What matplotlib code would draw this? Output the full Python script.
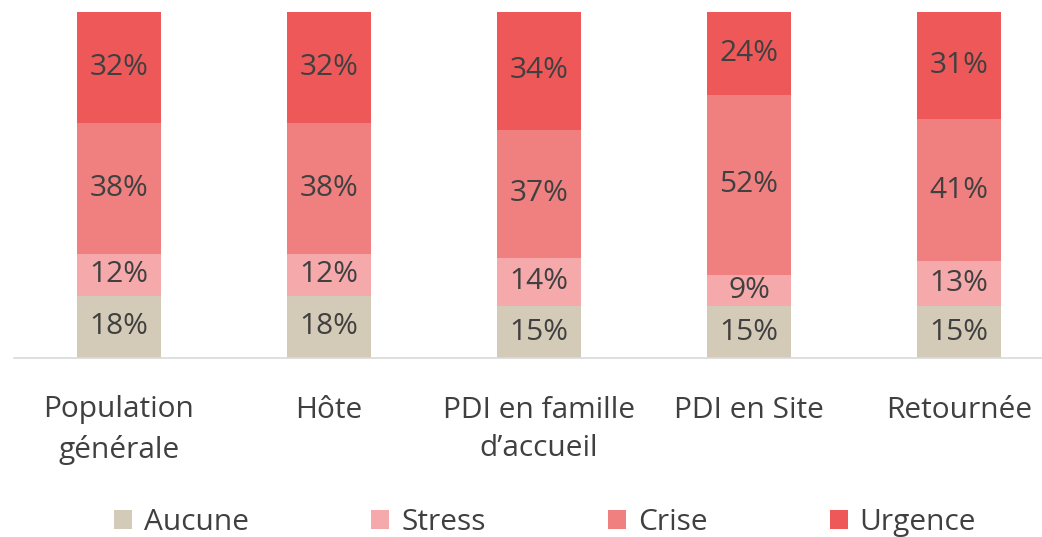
import matplotlib
matplotlib.use("Agg")
import matplotlib.pyplot as plt
import numpy as np

plt.rcParams["font.family"] = ["Open Sans", "DejaVu Sans"]

categories = ["Population\ngénérale", "Hôte", "PDI en famille\nd\u2019accueil", "PDI en Site", "Retournée"]
series_names = ["Aucune", "Stress", "Crise", "Urgence"]
aucune = [18, 18, 15, 15, 15]
stress = [12, 12, 14, 9, 13]
crise = [38, 38, 37, 52, 41]
urgence = [32, 32, 34, 24, 31]
colors = ["#D3CAB7", "#F5A9AB", "#F08080", "#EE5859"]

FS = 21.5

fig = plt.figure(figsize=(10.42, 5.37), dpi=100)
ax = fig.add_axes([14 / 1042, 179 / 537, 1028 / 1042, 346 / 537])

x = np.arange(len(categories))
bottom = np.zeros(len(categories))
for name, vals, col in zip(series_names, [aucune, stress, crise, urgence], colors):
    vals = np.array(vals, dtype=float)
    ax.bar(x, vals, bottom=bottom, width=0.4, color=col, label=name)
    for xi, b, v in zip(x, bottom, vals):
        ax.text(xi, b + v / 2, f"{int(v)}%", ha="center", va="center",
                fontsize=FS, color="#404040")
    bottom += vals

ax.set_xlim(-0.5, -0.5 + 1028 / 210)
ax.set_ylim(0, 100)
ax.set_yticks([])
ax.set_xticks(x)
ax.set_xticklabels(categories, fontsize=FS, color="#404040", linespacing=1.45)
ax.tick_params(axis="x", length=0, pad=27)
for s in ["top", "right", "left"]:
    ax.spines[s].set_visible(False)
ax.spines["bottom"].set_color("#D9D9D9")
ax.spines["bottom"].set_linewidth(1.2)

fig.legend(loc="lower left", bbox_to_anchor=(87 / 1042, -0.05), ncol=4, frameon=False,
           fontsize=FS, handlelength=0.6, handleheight=0.6, handletextpad=0.4,
           columnspacing=4.1, labelcolor="#404040")

fig.savefig("out.png", dpi=100)
